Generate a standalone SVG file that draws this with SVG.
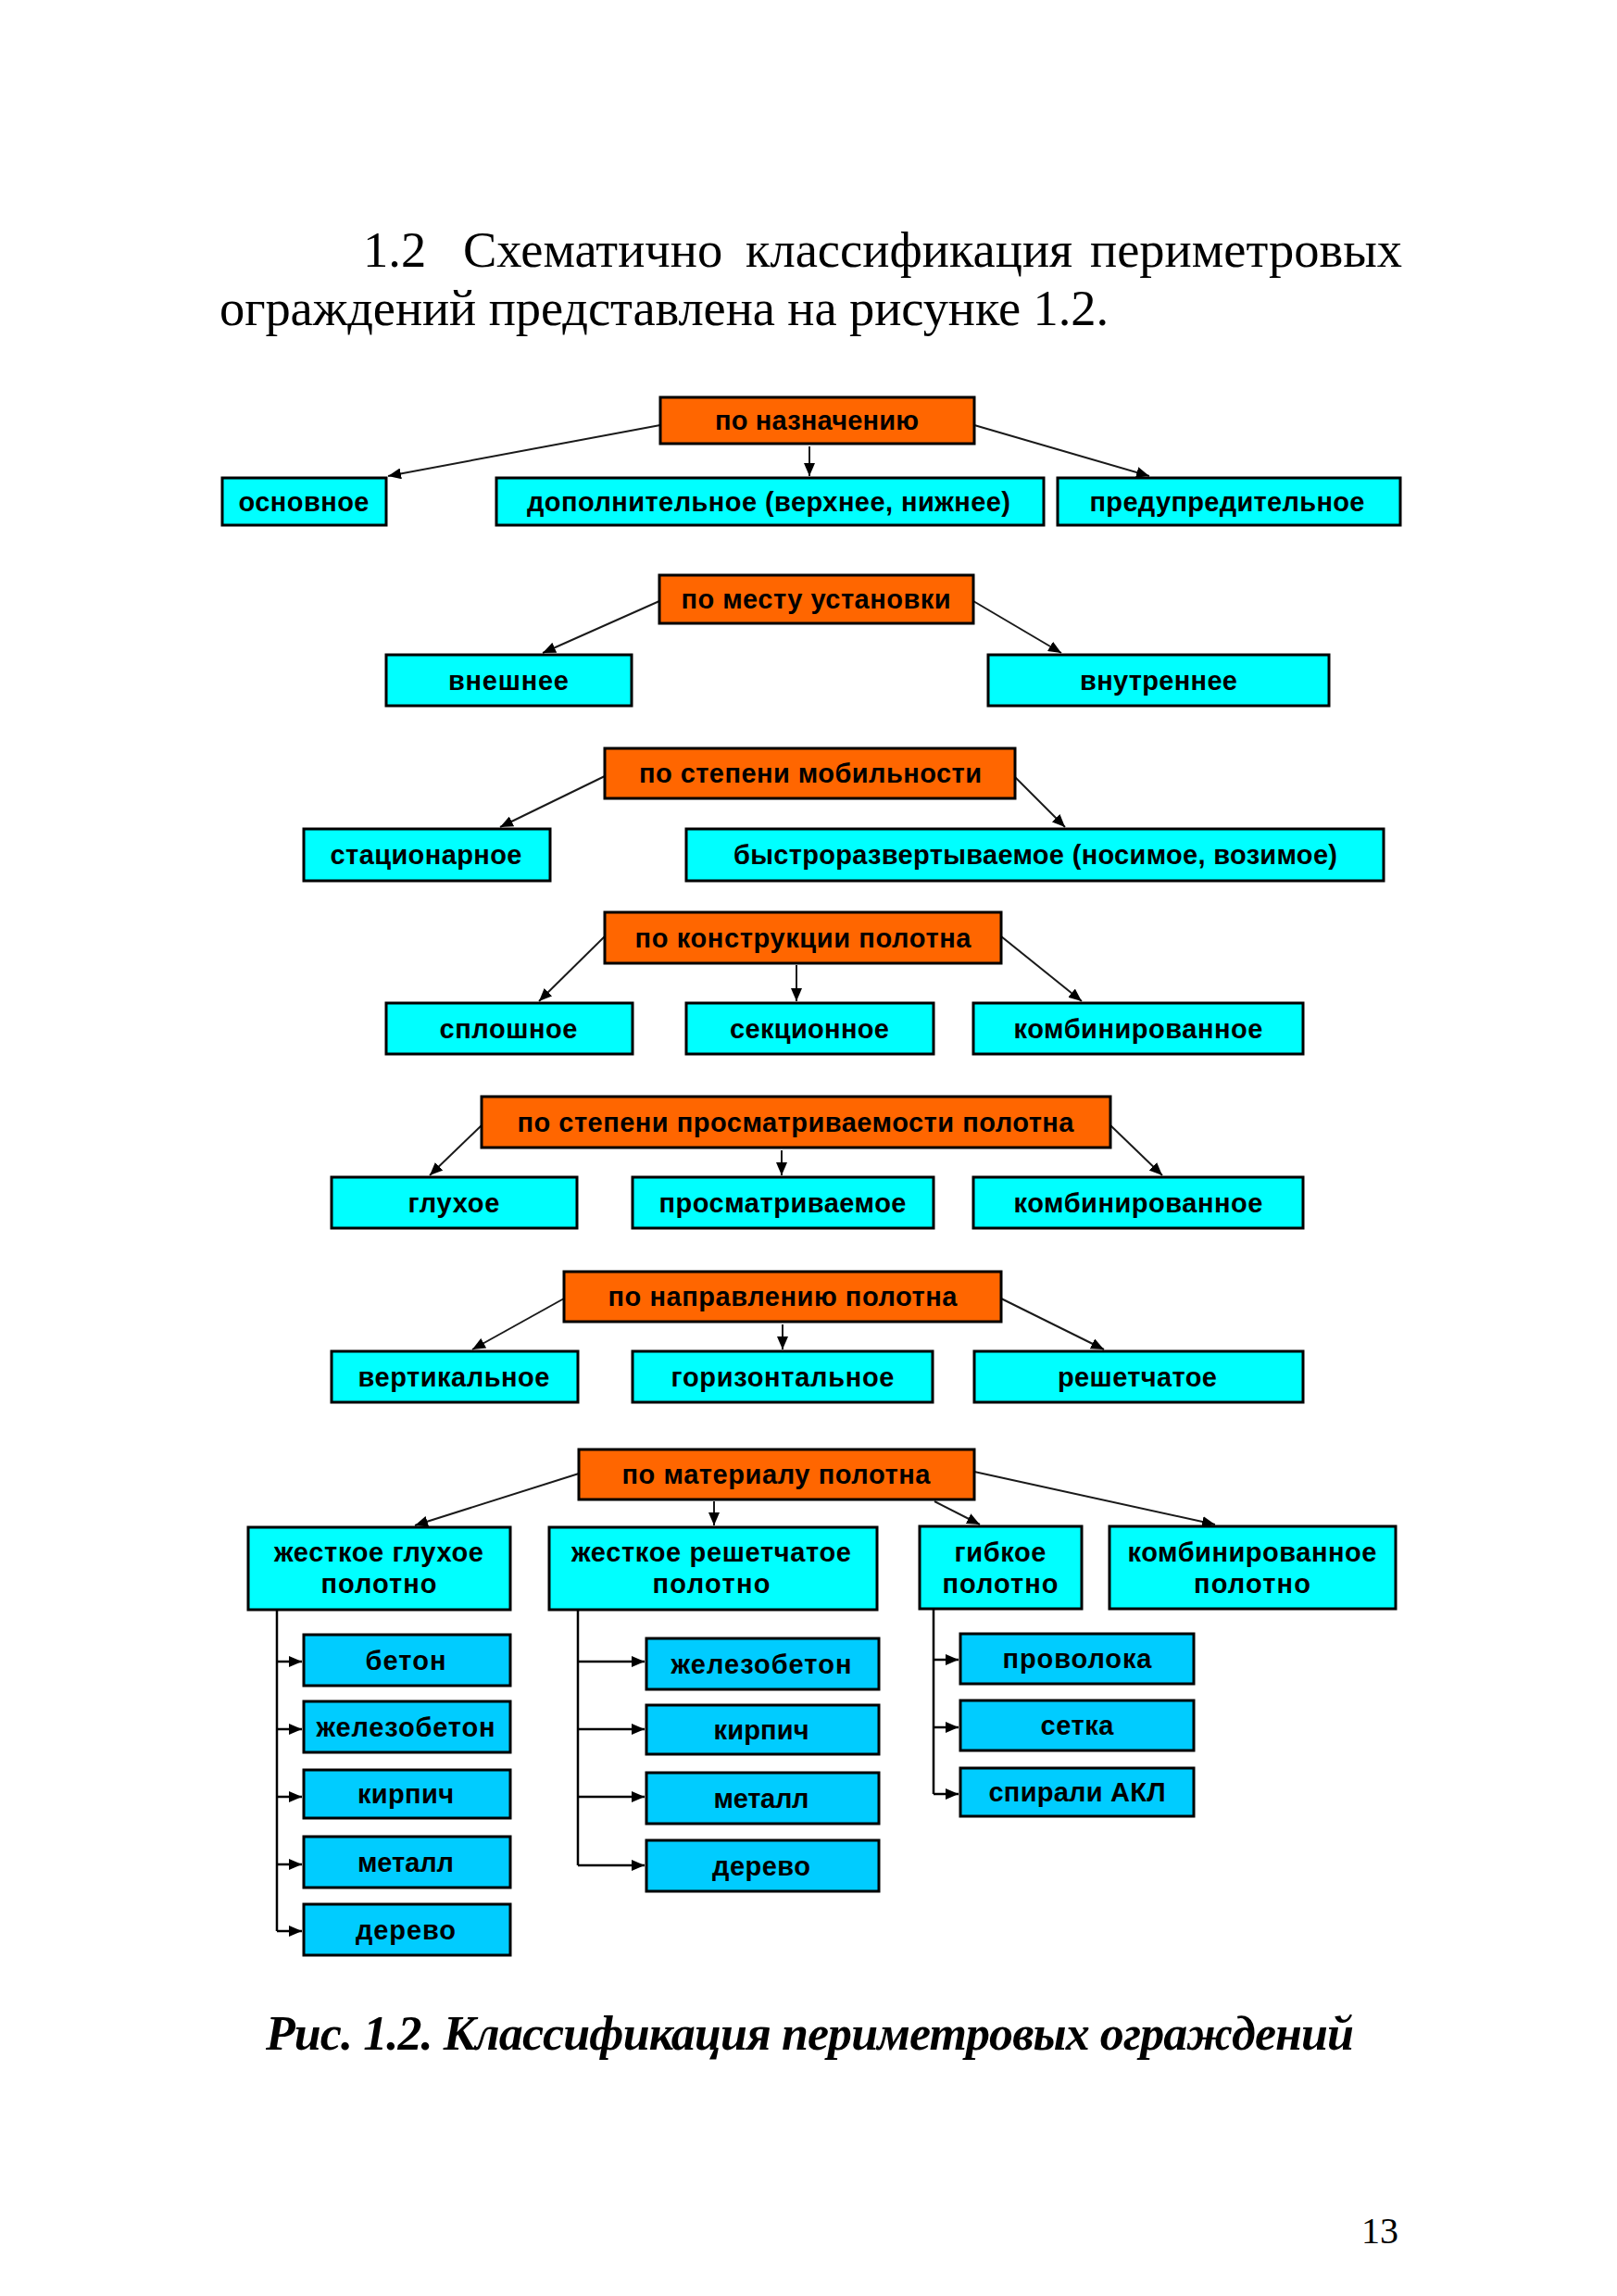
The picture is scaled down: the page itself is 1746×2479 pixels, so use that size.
<svg xmlns="http://www.w3.org/2000/svg" width="1746" height="2479" viewBox="0 0 1746 2479">
<style>
.o{fill:#FF6600;stroke:#000;stroke-width:3}
.c{fill:#00FFFF;stroke:#000;stroke-width:3}
.s{fill:#00CCFF;stroke:#000;stroke-width:3}
.t{font-family:"Liberation Sans",Arial,sans-serif;font-weight:bold;font-size:29px;text-anchor:middle;fill:#000}
.serif{font-family:"Liberation Serif","Times New Roman",serif;fill:#000}
.ln{fill:none;stroke:#1a1a1a;stroke-width:2;marker-end:url(#ah)}
.tr{fill:none;stroke:#000;stroke-width:2.5}
</style>
<defs>
<marker id="ah" viewBox="0 0 14 12" refX="14" refY="6" markerWidth="14" markerHeight="12" markerUnits="userSpaceOnUse" orient="auto"><path d="M0,0 L14,6 L0,12 z" fill="#000"/></marker>
</defs>
<rect width="1746" height="2479" fill="#fff"/>
<g id="title" class="serif" font-size="54.5">
<text x="392" y="288">1.2</text>
<text x="500" y="288">Схематично</text>
<text x="805" y="288">классификация</text>
<text x="1177" y="288">периметровых</text>
<text x="237" y="351" textLength="960">ограждений представлена на рисунке 1.2.</text>
</g>
<g id="connectors">
<path class="ln" d="M713,459 L419,514"/>
<path class="ln" d="M874,482 L874,514"/>
<path class="ln" d="M1052,459 L1241,514"/>
<path class="ln" d="M712,649 L586,705"/>
<path class="ln" d="M1051,649 L1146,705"/>
<path class="ln" d="M653,838 L540,893"/>
<path class="ln" d="M1096,839 L1150,893"/>
<path class="ln" d="M653,1011 L582,1081"/>
<path class="ln" d="M860,1042 L860,1081"/>
<path class="ln" d="M1081,1011 L1168,1081"/>
<path class="ln" d="M520,1215 L464,1269"/>
<path class="ln" d="M844,1242 L844,1269"/>
<path class="ln" d="M1199,1215 L1255,1269"/>
<path class="ln" d="M609,1402 L510,1457"/>
<path class="ln" d="M845,1430 L845,1457"/>
<path class="ln" d="M1081,1402 L1192,1457"/>
<path class="ln" d="M625,1591 L448,1647"/>
<path class="ln" d="M771,1621 L771,1647"/>
<path class="ln" d="M1009,1621 L1058,1646"/>
<path class="ln" d="M1052,1589 L1312,1646"/>
<path class="tr" d="M299,1737 V2085"/>
<path class="tr" d="M299,1794 H326" marker-end="url(#ah)"/>
<path class="tr" d="M299,1867 H326" marker-end="url(#ah)"/>
<path class="tr" d="M299,1940 H326" marker-end="url(#ah)"/>
<path class="tr" d="M299,2013 H326" marker-end="url(#ah)"/>
<path class="tr" d="M299,2085 H326" marker-end="url(#ah)"/>
<path class="tr" d="M624,1737 V2014"/>
<path class="tr" d="M624,1794 H696" marker-end="url(#ah)"/>
<path class="tr" d="M624,1867 H696" marker-end="url(#ah)"/>
<path class="tr" d="M624,1940 H696" marker-end="url(#ah)"/>
<path class="tr" d="M624,2014 H696" marker-end="url(#ah)"/>
<path class="tr" d="M1008,1737 V1937"/>
<path class="tr" d="M1008,1792 H1035" marker-end="url(#ah)"/>
<path class="tr" d="M1008,1865 H1035" marker-end="url(#ah)"/>
<path class="tr" d="M1008,1937 H1035" marker-end="url(#ah)"/>
</g>
<g id="n-naznach"><rect class="o" x="713" y="429" width="339" height="50"/><text class="t" x="882" y="464" textLength="220">по назначению</text></g>
<g id="n-osnovnoe"><rect class="c" x="240" y="516" width="177" height="51"/><text class="t" x="328" y="552" textLength="141">основное</text></g>
<g id="n-dopoln"><rect class="c" x="536" y="516" width="591" height="51"/><text class="t" x="830" y="552" textLength="522">дополнительное (верхнее, нижнее)</text></g>
<g id="n-preduprezh"><rect class="c" x="1142" y="516" width="370" height="51"/><text class="t" x="1325" y="552" textLength="297">предупредительное</text></g>

<g id="n-mesto"><rect class="o" x="712" y="621" width="339" height="52"/><text class="t" x="881" y="657" textLength="291">по месту установки</text></g>
<g id="n-vneshnee"><rect class="c" x="417" y="707" width="265" height="55"/><text class="t" x="549" y="745" textLength="130">внешнее</text></g>
<g id="n-vnutrennee"><rect class="c" x="1067" y="707" width="368" height="55"/><text class="t" x="1251" y="745" textLength="170">внутреннее</text></g>

<g id="n-mobil"><rect class="o" x="653" y="808" width="443" height="54"/><text class="t" x="875" y="845" textLength="370">по степени мобильности</text></g>
<g id="n-stac"><rect class="c" x="328" y="895" width="266" height="56"/><text class="t" x="460" y="933" textLength="207">стационарное</text></g>
<g id="n-bystro"><rect class="c" x="741" y="895" width="753" height="56"/><text class="t" x="1118" y="933" textLength="652">быстроразвертываемое (носимое, возимое)</text></g>

<g id="n-konstr"><rect class="o" x="653" y="985" width="428" height="55"/><text class="t" x="867" y="1023" textLength="363">по конструкции полотна</text></g>
<g id="n-splosh"><rect class="c" x="417" y="1083" width="266" height="55"/><text class="t" x="549" y="1121" textLength="149">сплошное</text></g>
<g id="n-sekc"><rect class="c" x="741" y="1083" width="267" height="55"/><text class="t" x="874" y="1121" textLength="172">секционное</text></g>
<g id="n-komb1"><rect class="c" x="1051" y="1083" width="356" height="55"/><text class="t" x="1229" y="1121" textLength="269">комбинированное</text></g>

<g id="n-prosm"><rect class="o" x="520" y="1184" width="679" height="55"/><text class="t" x="859" y="1222" textLength="601">по степени просматриваемости полотна</text></g>
<g id="n-gluhoe"><rect class="c" x="358" y="1271" width="265" height="55"/><text class="t" x="490" y="1309" textLength="99">глухое</text></g>
<g id="n-prosmatr"><rect class="c" x="683" y="1271" width="325" height="55"/><text class="t" x="845" y="1309" textLength="267">просматриваемое</text></g>
<g id="n-komb2"><rect class="c" x="1051" y="1271" width="356" height="55"/><text class="t" x="1229" y="1309" textLength="269">комбинированное</text></g>

<g id="n-napr"><rect class="o" x="609" y="1373" width="472" height="54"/><text class="t" x="845" y="1410" textLength="377">по направлению полотна</text></g>
<g id="n-vert"><rect class="c" x="358" y="1459" width="266" height="55"/><text class="t" x="490" y="1497" textLength="207">вертикальное</text></g>
<g id="n-horiz"><rect class="c" x="683" y="1459" width="324" height="55"/><text class="t" x="845" y="1497" textLength="241">горизонтальное</text></g>
<g id="n-reshet"><rect class="c" x="1052" y="1459" width="355" height="55"/><text class="t" x="1228" y="1497" textLength="172">решетчатое</text></g>

<g id="n-mater"><rect class="o" x="625" y="1565" width="427" height="54"/><text class="t" x="838" y="1602" textLength="333">по материалу полотна</text></g>
<g id="n-zhg"><rect class="c" x="268" y="1649" width="283" height="89"/><text class="t" x="409" y="1686" textLength="226">жесткое глухое</text><text class="t" x="409" y="1720" textLength="125">полотно</text></g>
<g id="n-zhr"><rect class="c" x="593" y="1649" width="354" height="89"/><text class="t" x="768" y="1686" textLength="302">жесткое решетчатое</text><text class="t" x="768" y="1720" textLength="127">полотно</text></g>
<g id="n-gibk"><rect class="c" x="993" y="1648" width="175" height="89"/><text class="t" x="1080" y="1686" textLength="99">гибкое</text><text class="t" x="1080" y="1720" textLength="125">полотно</text></g>
<g id="n-komb3"><rect class="c" x="1198" y="1648" width="309" height="89"/><text class="t" x="1352" y="1686" textLength="269">комбинированное</text><text class="t" x="1352" y="1720" textLength="126">полотно</text></g>

<g id="s-beton"><rect class="s" x="328" y="1765" width="223" height="55"/><text class="t" x="438" y="1803" textLength="87">бетон</text></g>
<g id="s-zhb1"><rect class="s" x="328" y="1837" width="223" height="55"/><text class="t" x="438" y="1875" textLength="193">железобетон</text></g>
<g id="s-kirp1"><rect class="s" x="328" y="1911" width="223" height="52"/><text class="t" x="438" y="1947" textLength="104">кирпич</text></g>
<g id="s-met1"><rect class="s" x="328" y="1983" width="223" height="55"/><text class="t" x="438" y="2021" textLength="104">металл</text></g>
<g id="s-der1"><rect class="s" x="328" y="2056" width="223" height="55"/><text class="t" x="438" y="2094" textLength="108">дерево</text></g>

<g id="s-zhb2"><rect class="s" x="698" y="1769" width="251" height="55"/><text class="t" x="822" y="1807" textLength="195">железобетон</text></g>
<g id="s-kirp2"><rect class="s" x="698" y="1841" width="251" height="53"/><text class="t" x="822" y="1878" textLength="103">кирпич</text></g>
<g id="s-met2"><rect class="s" x="698" y="1914" width="251" height="55"/><text class="t" x="822" y="1952" textLength="103">металл</text></g>
<g id="s-der2"><rect class="s" x="698" y="1987" width="251" height="55"/><text class="t" x="822" y="2025" textLength="106">дерево</text></g>

<g id="s-provol"><rect class="s" x="1037" y="1764" width="252" height="54"/><text class="t" x="1163" y="1801" textLength="161">проволока</text></g>
<g id="s-setka"><rect class="s" x="1037" y="1836" width="252" height="54"/><text class="t" x="1163" y="1873" textLength="79">сетка</text></g>
<g id="s-spir"><rect class="s" x="1037" y="1909" width="252" height="52"/><text class="t" x="1163" y="1945" textLength="191">спирали АКЛ</text></g>

<g id="caption" class="serif">
<text x="287" y="2213" font-size="52" font-weight="bold" font-style="italic" textLength="1175">Рис. 1.2. Классификация периметровых ограждений</text>
<text x="1510" y="2422" font-size="40" text-anchor="end">13</text>
</g>
</svg>
